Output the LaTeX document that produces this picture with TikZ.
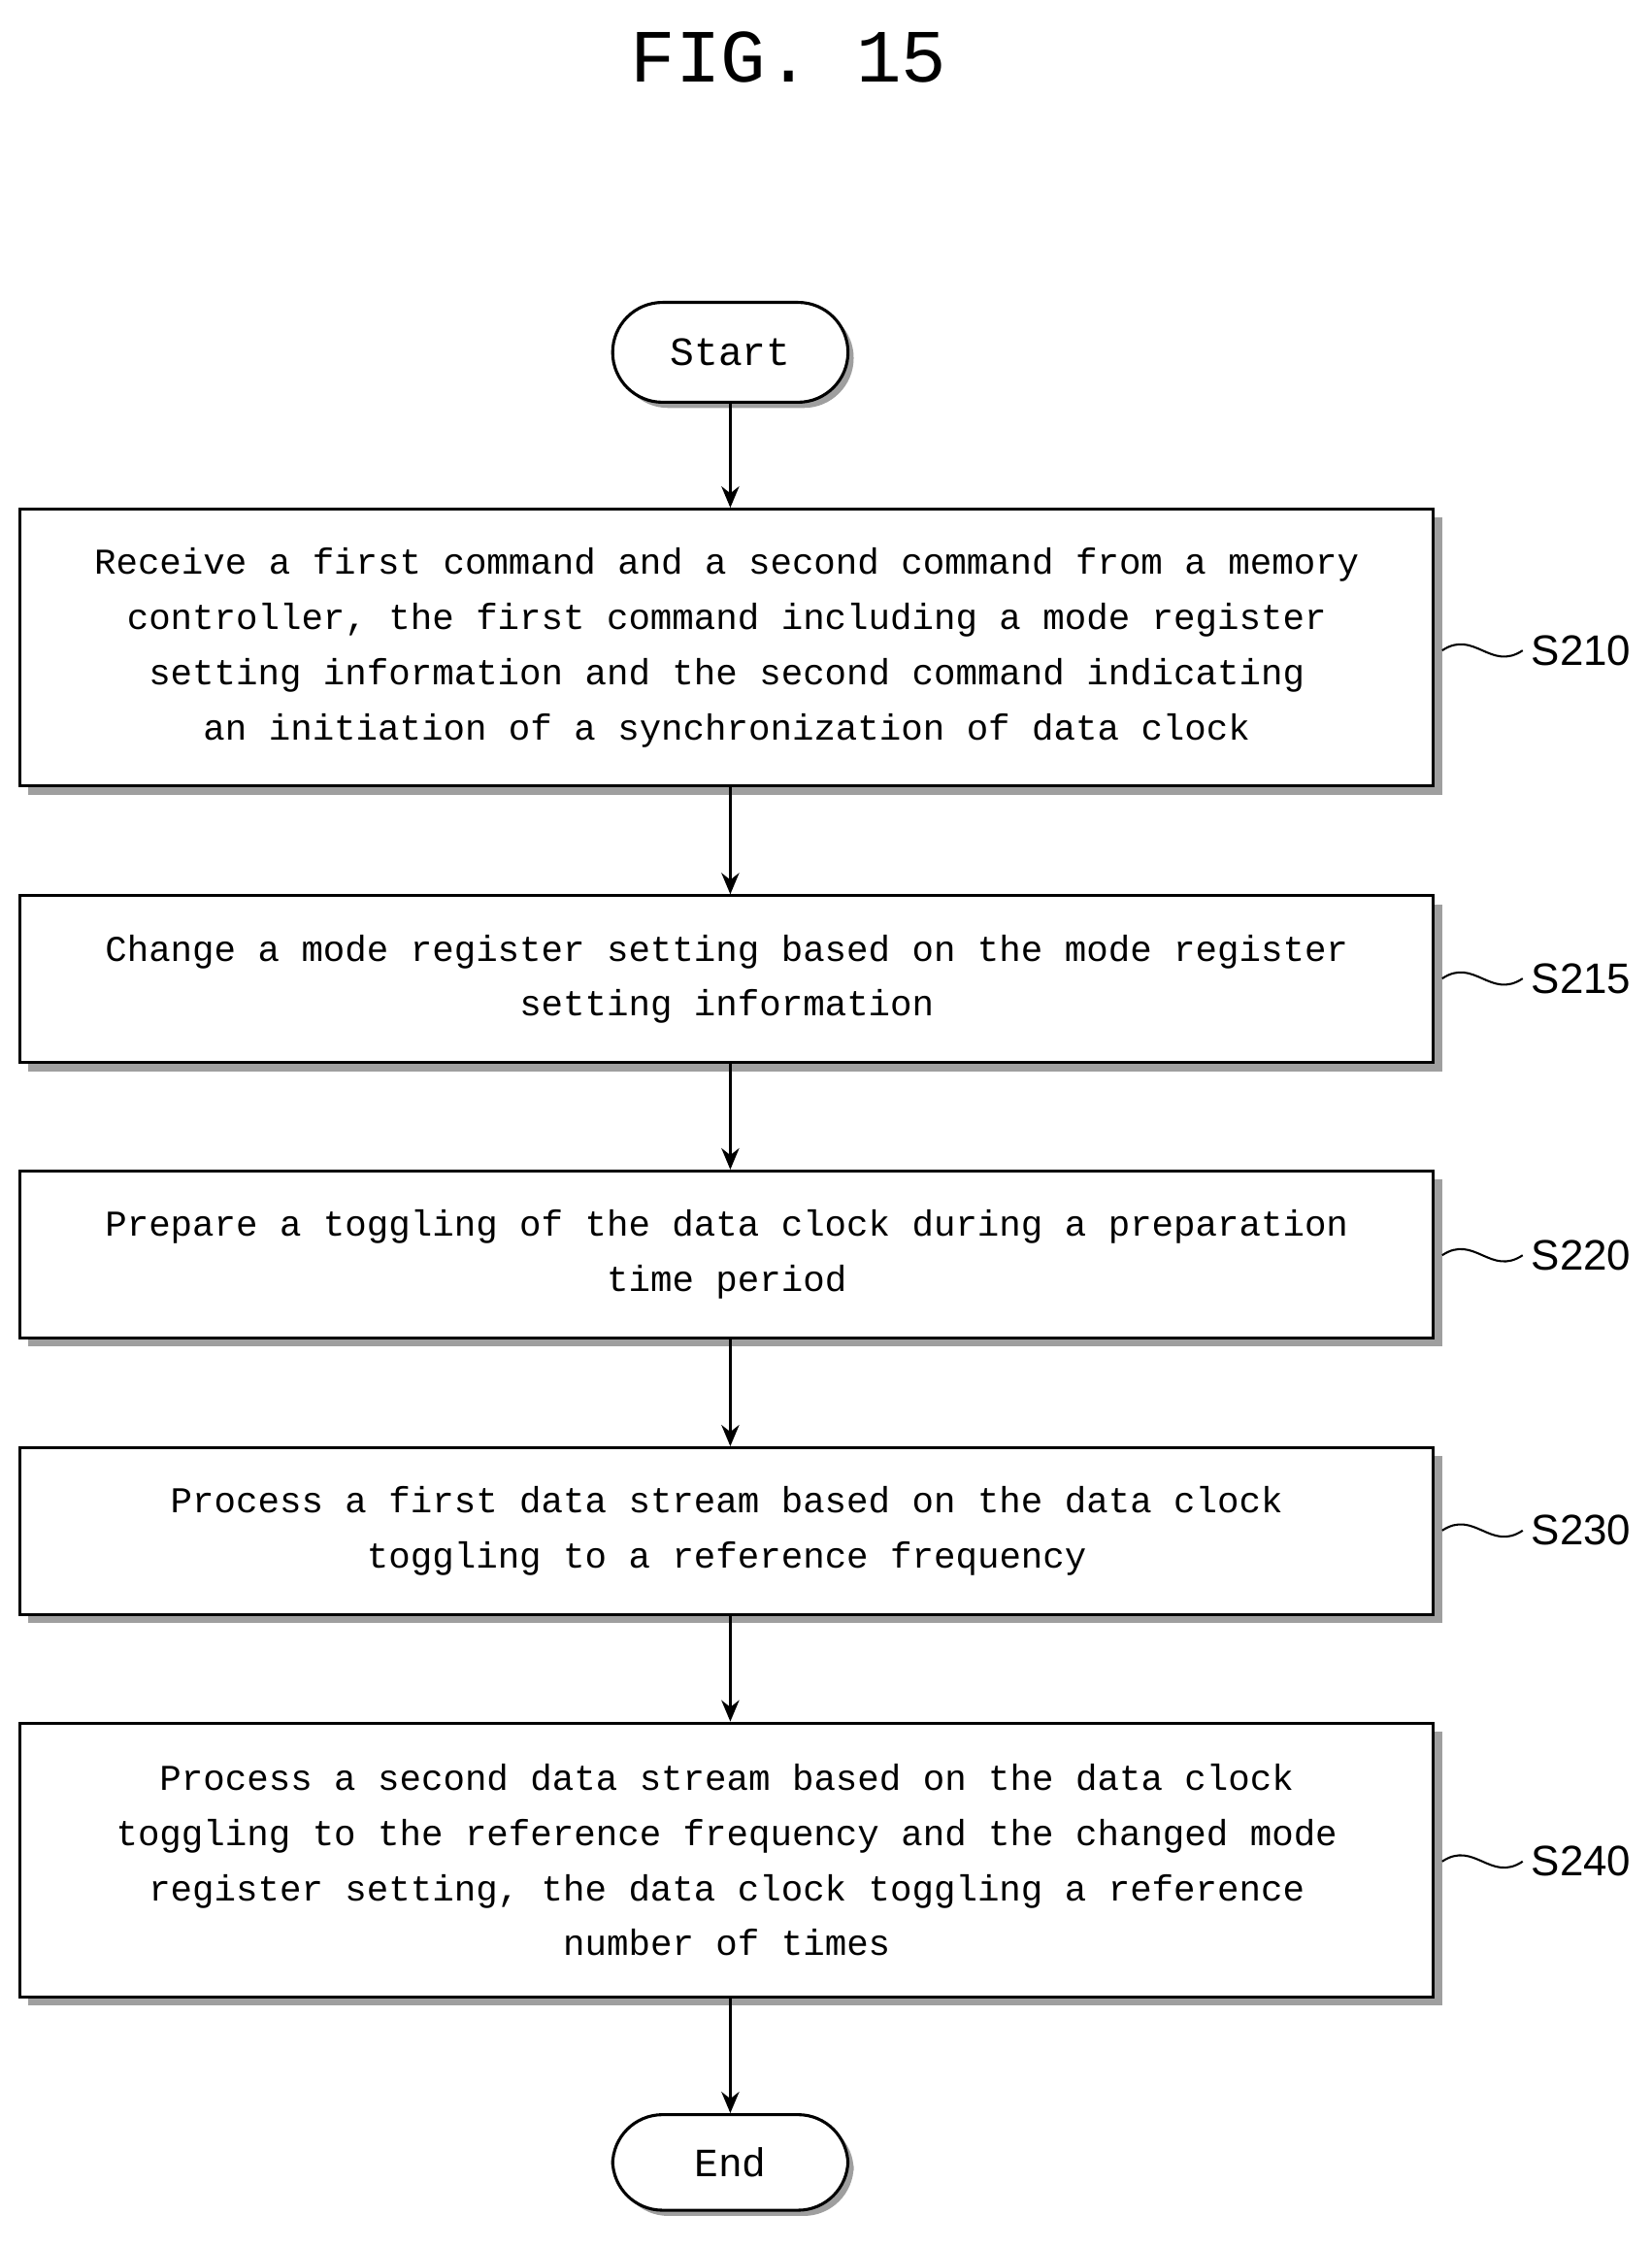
\documentclass[tikz,border=0pt]{standalone}
\usepackage{fontspec}
\setmainfont{Liberation Sans}
\newfontfamily\boxfont{Liberation Mono}
\usetikzlibrary{shadows,arrows.meta}
\begin{document}
\begin{tikzpicture}[
  box/.style={draw, line width=1.2pt, fill=white, minimum width=19.82cm, align=center,
    font=\boxfont\fontsize{14.5}{22}\selectfont,
    drop shadow={shadow xshift=0.12cm, shadow yshift=-0.12cm, fill=gray!75, opacity=1}},
  term/.style={draw, line width=1.2pt, fill=white, rounded corners=0.7cm, minimum width=3.3cm, minimum height=1.4cm,
    font=\boxfont\fontsize{16}{20}\selectfont,
    drop shadow={shadow xshift=0.08cm, shadow yshift=-0.08cm, fill=gray!75, opacity=1}},
  lab/.style={font=\fontsize{17}{20}\selectfont},
  arr/.style={line width=1pt, -{Stealth[length=0.3cm,width=0.25cm]}},
  sq/.style={line width=0.8pt}
]
\useasboundingbox (0,0) rectangle (23.16,-31.52);
\node[font=\boxfont\fontsize{30}{34}\selectfont] (title) at (11.06,-0.8) {FIG. 15};
\node[term] (start) at (10.24,-4.94) {Start};
\node[box, minimum height=3.88cm] (b1) at (10.19,-9.08) {Receive a first command and a second command from a memory\\controller, the first command including a mode register\\setting information and the second command indicating\\an initiation of a synchronization of data clock};
\node[box, minimum height=2.34cm] (b2) at (10.19,-13.73) {Change a mode register setting based on the mode register\\setting information};
\node[box, minimum height=2.34cm] (b3) at (10.19,-17.59) {Prepare a toggling of the data clock during a preparation\\time period};
\node[box, minimum height=2.34cm] (b4) at (10.19,-21.47) {Process a first data stream based on the data clock\\toggling to a reference frequency};
\node[box, minimum height=3.84cm] (b5) at (10.19,-26.08) {Process a second data stream based on the data clock\\toggling to the reference frequency and the changed mode\\register setting, the data clock toggling a reference\\number of times};
\node[term, minimum height=1.34cm] (end) at (10.24,-30.32) {End};
\draw[arr] (start) -- (start |- b1.north);
\draw[arr] (b1.south -| start) -- (b2.north -| start);
\draw[arr] (b2.south -| start) -- (b3.north -| start);
\draw[arr] (b3.south -| start) -- (b4.north -| start);
\draw[arr] (b4.south -| start) -- (b5.north -| start);
\draw[arr] (b5.south -| start) -- (end);
\foreach \b/\l/\y in {b1/S210/-9.12, b2/S215/-13.72, b3/S220/-17.6, b4/S230/-21.46, b5/S240/-26.1}{
  \node[lab, anchor=west] (l\b) at (21.35,\y) {\l};
  \draw[sq] (\b.east |- l\b.west) ++(0.1,0) .. controls +(0.45,0.3) and +(-0.45,-0.3) .. (l\b.west);
}
\end{tikzpicture}
\end{document}
